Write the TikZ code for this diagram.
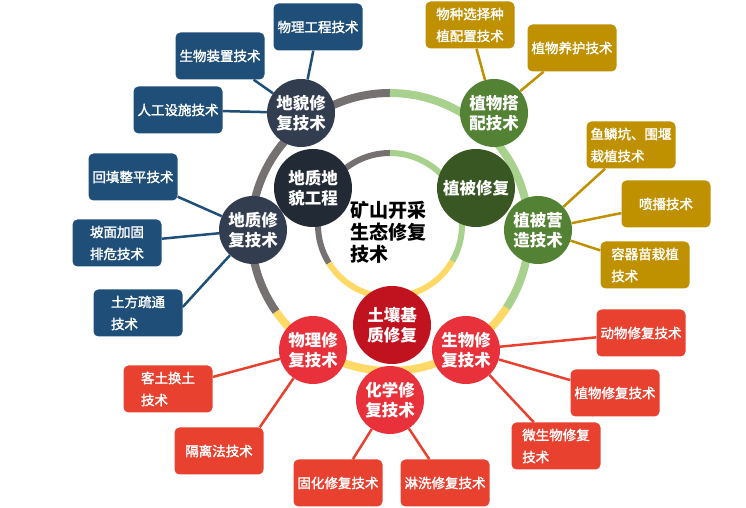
\documentclass[tikz,border=0pt]{standalone}
\usepackage{fontspec}
\setmainfont{Noto Sans CJK SC}
\newfontfamily\boxfont{Noto Sans CJK SC}[FakeBold=1.8]
\definecolor{navyc}{HTML}{1F4E79}
\definecolor{goldc}{HTML}{BF9000}
\definecolor{redc}{HTML}{E8412F}
\definecolor{slateball}{HTML}{323E50}
\definecolor{inkball}{HTML}{222A35}
\definecolor{greenball}{HTML}{548235}
\definecolor{forestball}{HTML}{385723}
\definecolor{redball}{HTML}{E8313B}
\definecolor{wineball}{HTML}{C0121F}
\definecolor{ringgray}{HTML}{767171}
\definecolor{ringgreen}{HTML}{A9D18E}
\definecolor{ringyellow}{HTML}{FFD966}
\tikzset{
  techbox/.style={rounded corners=5pt, minimum width=89pt, minimum height=47pt,
    inner sep=2pt, text=white, align=left, font=\boxfont\fontsize{13.5}{22}\selectfont},
  bluebox/.style={techbox, fill=navyc},
  goldbox/.style={techbox, fill=goldc},
  redbox/.style={techbox, fill=redc},
  ball/.style={circle, minimum size=68pt, inner sep=0pt, text=white, align=center,
    font=\fontsize{16.5}{20}\selectfont\bfseries},
  bigball/.style={ball, minimum size=78pt},
  link/.style={line width=2.5pt},
  band/.style={line width=8pt}
}
\begin{document}
\begin{tikzpicture}[x=1pt,y=1pt]
  \useasboundingbox (0,0) rectangle (746,508);
  % rings
  \draw[band,ringgray] (390,276) ++(90:139) arc (90:215:139);
  \draw[band,ringyellow] (390,276) ++(215:139) arc (215:327:139);
  \draw[band,ringgreen] (390,276) ++(-33:139) arc (-33:90:139);
  \draw[band,line width=6pt,ringgray] (390,283) ++(90:72) arc (90:212:72);
  \draw[band,line width=6pt,ringyellow] (390,283) ++(212:72) arc (212:330:72);
  \draw[band,line width=6pt,ringgreen] (390,283) ++(-30:72) arc (-30:90:72);

  \node[font=\fontsize{19}{22}\selectfont\bfseries, align=left] (core) at (388,276) {矿山开采\\生态修复\\技术};

  % circles
  \node[bigball, fill=inkball] (dizhidimao) at (313,320) {地质地\\貌工程};
  \node[bigball, fill=forestball] (zhibei) at (476,320) {植被修复};
  \node[bigball, fill=wineball] (turang) at (392,183) {土壤基\\质修复};
  \node[ball, fill=slateball] (dimao) at (301,395) {地貌修\\复技术};
  \node[ball, fill=slateball] (dizhi) at (253,278) {地质修\\复技术};
  \node[ball, fill=greenball] (dapei) at (494,395) {植物搭\\配技术};
  \node[ball, fill=greenball] (yingzao) at (538,278) {植被营\\造技术};
  \node[ball, fill=redball] (wuli) at (313,158) {物理修\\复技术};
  \node[ball, fill=redball] (shengwu) at (466,158) {生物修\\复技术};
  \node[ball, fill=redball] (huaxue) at (390,108) {化学修\\复技术};

  % boxes
  \node[bluebox] (wuligc) at (318,481) {物理工程技术};
  \node[bluebox] (zhuangzhi) at (220,452) {生物装置技术};
  \node[bluebox] (sheshi) at (178,398) {人工设施技术};
  \node[bluebox] (huitian) at (133,331) {回填整平技术};
  \node[bluebox] (pomian) at (117,265) {坡面加固\\排危技术};
  \node[bluebox] (tufang) at (138,195) {土方疏通\\技术};

  \node[goldbox] (wuzhong) at (470,483) {物种选择种\\植配置技术};
  \node[goldbox] (yanghu) at (572,460) {植物养护技术};
  \node[goldbox] (yulin) at (631,363) {鱼鳞坑、围堰\\栽植技术};
  \node[goldbox] (penbo) at (666,304) {喷播技术};
  \node[goldbox] (rongqi) at (645,243) {容器苗栽植\\技术};

  \node[redbox] (dongwu) at (641,175) {动物修复技术};
  \node[redbox] (zhiwu) at (615,115) {植物修复技术};
  \node[redbox] (weisheng) at (556,62) {微生物修复\\技术};
  \node[redbox] (linxi) at (445,25) {淋洗修复技术};
  \node[redbox] (guhua) at (338,25) {固化修复技术};
  \node[redbox] (geli) at (219,57) {隔离法技术};
  \node[redbox] (ketu) at (168,119) {客土换土\\技术};

  % connectors
  \draw[link,navyc] (wuligc) -- (dimao);
  \draw[link,navyc] (zhuangzhi) -- (dimao);
  \draw[link,navyc] (sheshi) -- (dimao);
  \draw[link,navyc] (huitian) -- (dizhi);
  \draw[link,navyc] (pomian) -- (dizhi);
  \draw[link,navyc] ([yshift=6pt]tufang.east) -- (dizhi);
  \draw[link,goldc] (wuzhong) -- (dapei);
  \draw[link,goldc] (yanghu) -- (dapei);
  \draw[link,goldc] (yulin) -- (yingzao);
  \draw[link,goldc] (penbo) -- (yingzao);
  \draw[link,goldc] (rongqi) -- (yingzao);
  \draw[link,redc] (dongwu) -- (shengwu);
  \draw[link,redc] (zhiwu) -- (shengwu);
  \draw[link,redc] (weisheng) -- (shengwu);
  \draw[link,redc] (linxi) -- (huaxue);
  \draw[link,redc] (guhua) -- (huaxue);
  \draw[link,redc] ([xshift=-4pt]geli.north east) -- (wuli);
  \draw[link,redc] (ketu) -- (wuli);
\end{tikzpicture}
\end{document}
